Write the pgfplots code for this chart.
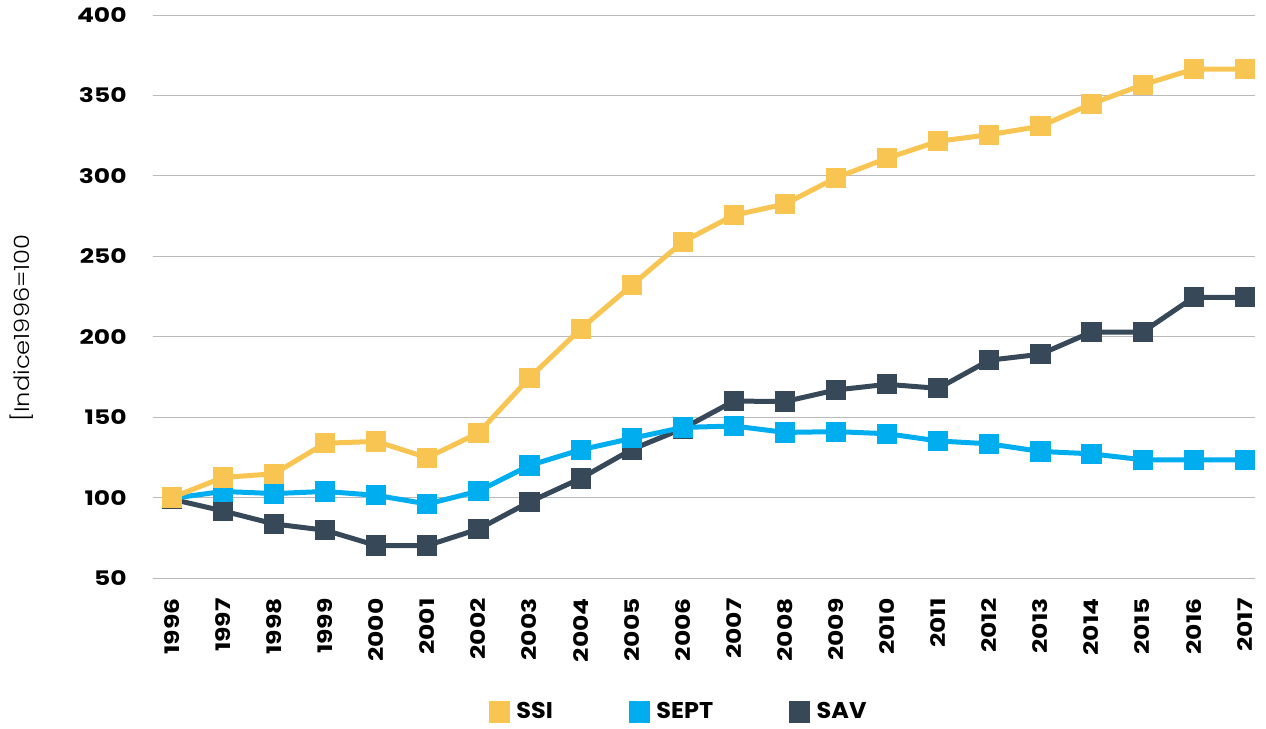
\documentclass[border=0pt]{standalone}
\usepackage{fontspec}
\setmainfont{Poppins}
\newfontfamily\tickfont[FakeStretch=1.25]{Poppins}
\IfFontExistsTF{Poppins Light}{\newfontfamily\labfont[FakeStretch=1.15]{Poppins Light}}{\newfontfamily\labfont[FakeStretch=1.15]{Poppins}}
\newfontfamily\legfont[FakeStretch=1.05]{Poppins}
\usepackage{pgfplots}
\pgfplotsset{compat=1.18}
\definecolor{ssi}{HTML}{F8C452}
\definecolor{sept}{HTML}{00AEEF}
\definecolor{sav}{HTML}{374958}
\begin{document}
\begin{tikzpicture}
\begin{axis}[
  scale only axis, width=551pt, height=281.5pt,
  xmin=1995.63, xmax=2017.2, ymin=50, ymax=400,
  xtick={1996,...,2017}, ytick={50,100,...,400},
  ymajorgrids, grid style={draw=black!27, line width=0.5pt},
  axis line style={draw=none}, major tick length=0pt,
  /pgf/number format/assume math mode=true,
  /pgf/number format/1000 sep={},
  ticklabel style={font=\tickfont\bfseries\fontsize{10}{12}\selectfont},
  xticklabel style={rotate=90, anchor=east, inner sep=0pt},
  yticklabel style={anchor=east, inner sep=0pt},
  xticklabel shift=10pt, yticklabel shift=13pt,
  ylabel={[Indice1996=100},
  ylabel style={at={(axis description cs:-0.119,0.444)}, anchor=center, font=\labfont\fontsize{10.5}{12}\selectfont},
  legend columns=3, reverse legend,
  legend style={draw=none, fill=none, at={(0.478,-0.238)}, anchor=center,
    font=\legfont\bfseries\fontsize{11.4}{13}\selectfont,
    /tikz/every even column/.append style={column sep=36pt}},
  legend image code/.code={\fill[#1] (0pt,-4.25pt) rectangle (8pt,4.25pt); \path[draw=none,fill=none] (0pt,0pt) rectangle (10.5pt,0.1pt);},
  every axis plot/.append style={line width=2.5pt, mark=square*, mark size=3.8pt, mark options={solid}},
]
\addplot[color=sav] coordinates {
(1996,99) (1997,91.7) (1998,83.6) (1999,79.7) (2000,70.2) (2001,70.2) (2002,80.4) (2003,97.3) (2004,111.9) (2005,129.9) (2006,142.9) (2007,160) (2008,159.7) (2009,166.9) (2010,170.4) (2011,167.9) (2012,185.4) (2013,189.1) (2014,202.9) (2015,202.9) (2016,224.5) (2017,224.5)};
\addlegendentry{SAV}
\addplot[color=sept] coordinates {
(1996,99.5) (1997,103.8) (1998,102.5) (1999,103.8) (2000,101.4) (2001,96) (2002,104) (2003,120) (2004,129.7) (2005,136.8) (2006,143.6) (2007,144.5) (2008,140.5) (2009,141) (2010,139.7) (2011,135.2) (2012,133.4) (2013,128.7) (2014,127.2) (2015,123.5) (2016,123.5) (2017,123.5)};
\addlegendentry{SEPT}
\addplot[color=ssi] coordinates {
(1996,100) (1997,112.5) (1998,114.8) (1999,133.8) (2000,134.9) (2001,124.8) (2002,140.2) (2003,174.5) (2004,204.8) (2005,232) (2006,259) (2007,275.5) (2008,282.5) (2009,298.8) (2010,311) (2011,321.5) (2012,325.6) (2013,330.8) (2014,344.8) (2015,356.6) (2016,366.3) (2017,366.3)};
\addlegendentry{SSI}
\end{axis}
\pgfresetboundingbox
\path ([shift={(-76.5pt,-75pt)}]current axis.south west) rectangle ([shift={(5.5pt,7.5pt)}]current axis.north east);
\end{tikzpicture}
\end{document}
